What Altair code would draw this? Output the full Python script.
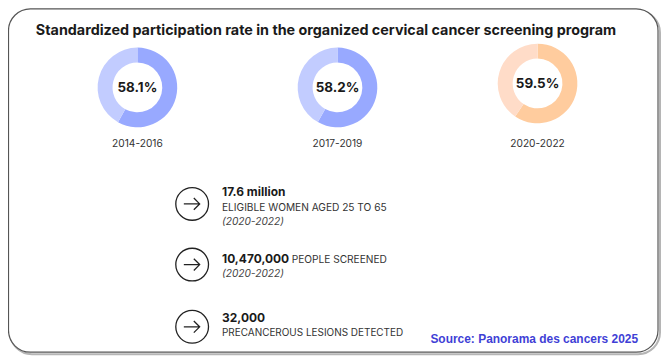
import altair as alt
import pandas as pd

# ---- data ----
title_text = "Standardized participation rate in the organized cervical cancer screening program"
periods = ["2014-2016", "2017-2019", "2020-2022"]
rates = [58.1, 58.2, 59.5]
dark_colors = ["#98A9FF", "#98A9FF", "#FFCC9E"]
light_colors = ["#C2CCFF", "#C2CCFF", "#FFDCC8"]

fact_bold = ["17.6 million", "10,470,000", "32,000"]
fact_rest = ["", "PEOPLE SCREENED", ""]
fact_line2 = ["ELIGIBLE WOMEN AGED 25 TO 65", "(2020-2022)", "PRECANCEROUS LESIONS DETECTED"]
fact_line3 = ["(2020-2022)", "", ""]
source_text = "Source: Panorama des cancers 2025"

W, H = 656, 348
FONT = "Inter"

# layout (plot-area pixel coordinates)
donut_y = [79, 79, 75]
label_y = 139
row_y = [196, 257, 319.5]
circle_x = 185
text_x = 215

xscale = alt.Scale(domain=periods, range=[130, 532], padding=0)

layers = []

# border + shadow
frame = pd.DataFrame({"a": [0]})
layers.append(
    alt.Chart(frame).mark_rect(fill="white", stroke="#b5b5b5", strokeWidth=2, cornerRadius=22)
    .encode(x=alt.value(2), x2=alt.value(W - 1), y=alt.value(2), y2=alt.value(H - 1))
)
layers.append(
    alt.Chart(frame).mark_rect(fill="white", stroke="#555555", strokeWidth=1.2, cornerRadius=22)
    .encode(x=alt.value(0.5), x2=alt.value(W - 3), y=alt.value(0), y2=alt.value(H - 3))
)


def txt(text, x, y, size, weight="normal", style="normal", color="#222222", align="left", font=FONT):
    d = pd.DataFrame({"t": [text]})
    return alt.Chart(d).mark_text(
        align=align, baseline="alphabetic", fontSize=size, fontWeight=weight,
        fontStyle=style, color=color, font=font
    ).encode(x=alt.value(x), y=alt.value(y), text="t:N")


layers.append(txt(title_text, 28, 26, 14.4, weight="bold", color="#1a1a1a"))

# donuts
for i, (p, r) in enumerate(zip(periods, rates)):
    d = pd.DataFrame({
        "period": [p, p],
        "part": [f"{p} screened", f"{p} not"],
        "value": [r, round(100 - r, 1)],
        "ord": [0, 1],
    })
    layers.append(
        alt.Chart(d).mark_arc(outerRadius=40, innerRadius=25)
        .encode(
            x=alt.X("period:N", scale=xscale, axis=None),
            y=alt.value(donut_y[i]),
            theta=alt.Theta("value:Q", stack=True, scale=alt.Scale(domain=[0, 100])),
            color=alt.Color("part:N", scale=alt.Scale(domain=[f"{p} screened", f"{p} not"],
                                                      range=[dark_colors[i], light_colors[i]]),
                            legend=None),
            order=alt.Order("ord:Q"),
        )
    )
    dl = pd.DataFrame({"period": [p], "lab": [f"{r:.1f}%"]})
    layers.append(
        alt.Chart(dl).mark_text(fontSize=13.5, fontWeight="bold", color="#1a1a1a", font=FONT,
                                baseline="middle", align="center")
        .encode(x=alt.X("period:N", scale=xscale, axis=None), y=alt.value(donut_y[i] + 1), text="lab:N")
    )
    layers.append(
        alt.Chart(dl).mark_text(fontSize=10.2, color="#333333", font=FONT, baseline="alphabetic", align="center")
        .encode(x=alt.X("period:N", scale=xscale, axis=None), y=alt.value(label_y), text="period:N")
    )

# arrow circles
arrow_path = "M-1,0 L0.9,0 M0.2,-0.7 L0.9,0 L0.2,0.7"
for i in range(3):
    c = pd.DataFrame({"a": [0]})
    layers.append(
        alt.Chart(c).mark_point(shape="circle", size=1080, filled=False, stroke="#222222", strokeWidth=1.3, opacity=1)
        .encode(x=alt.value(circle_x), y=alt.value(row_y[i]))
    )
    layers.append(
        alt.Chart(c).mark_point(shape=arrow_path, size=280, filled=False, stroke="#222222", strokeWidth=1.3, opacity=1)
        .encode(x=alt.value(circle_x), y=alt.value(row_y[i]))
    )

# text rows (baselines)
layers.append(txt(fact_bold[0], text_x, 188, 12, weight="bold", color="#1a1a1a"))
layers.append(txt(fact_line2[0], text_x, 203.5, 10.2, color="#333333"))
layers.append(txt(fact_line3[0], text_x, 217, 10.2, style="italic", color="#444444"))

layers.append(txt(fact_bold[1], text_x, 255, 12, weight="bold", color="#1a1a1a"))
layers.append(txt(fact_rest[1], 285, 255, 10.2, color="#333333"))
layers.append(txt(fact_line2[1], text_x, 269, 10.2, style="italic", color="#444444"))

layers.append(txt(fact_bold[2], text_x, 315, 12, weight="bold", color="#1a1a1a"))
layers.append(txt(fact_line2[2], text_x, 328.5, 10, color="#333333"))

layers.append(txt(source_text, 633, 336, 12, weight="bold", color="#3F3FD6", align="right", font="Liberation Sans"))

chart = alt.layer(*layers).properties(
    width=W, height=H, padding=0, autosize=alt.AutoSizeParams(type="none")
).configure_view(stroke=None).resolve_scale(color="independent")

chart.save("out.html", embed_options={"renderer": "svg", "actions": False})
